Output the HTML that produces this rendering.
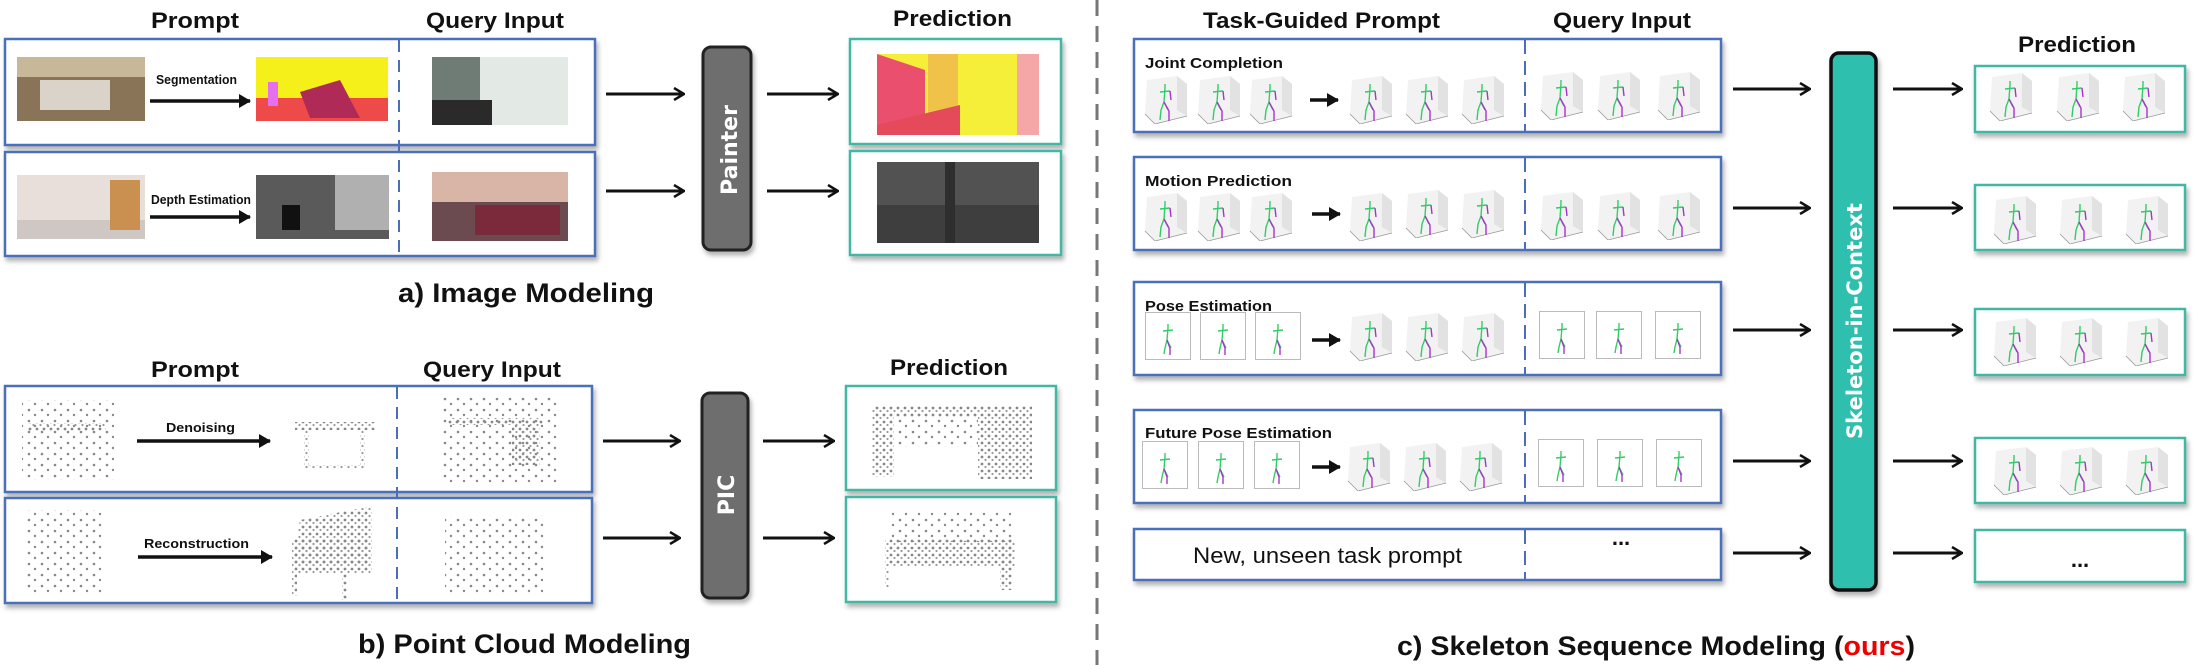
<!DOCTYPE html>
<html><head><meta charset="utf-8"><style>
html,body{margin:0;padding:0;background:#fff}
svg{display:block}
text{font-family:"Liberation Sans Narrow","Liberation Sans",sans-serif;font-weight:bold;fill:#111}
</style></head><body>
<svg width="2196" height="665" viewBox="0 0 2196 665" xmlns="http://www.w3.org/2000/svg">
<defs>
<filter id="sh" x="-5%" y="-5%" width="110%" height="120%"><feDropShadow dx="2" dy="4" stdDeviation="2.5" flood-color="#000" flood-opacity="0.3"/></filter>
<marker id="ah" markerWidth="12" markerHeight="14" refX="11" refY="7" orient="auto" markerUnits="userSpaceOnUse"><path d="M1,1 L11,7 L1,13" fill="none" stroke="#111" stroke-width="2.5"/></marker>
<marker id="fh" markerWidth="12" markerHeight="14" refX="11" refY="7" orient="auto" markerUnits="userSpaceOnUse"><path d="M0,0 L12,7 L0,14 Z" fill="#111"/></marker>
<pattern id="dots" width="7" height="7" patternUnits="userSpaceOnUse"><circle cx="2" cy="2" r="1.4" fill="#888"/><circle cx="5.5" cy="5" r="1.1" fill="#999"/></pattern>
<pattern id="sdots" width="13" height="11" patternUnits="userSpaceOnUse"><circle cx="3" cy="3" r="1.3" fill="#888"/><circle cx="9" cy="8" r="1.2" fill="#888"/></pattern>
<symbol id="sk" viewBox="0 0 46 48" width="46" height="48">
<polygon points="4,4 34,0 44,8 44,40 12,48 2,38" fill="#f2f2f2"/>
<polygon points="34,0 44,8 44,40 34,34" fill="#e2e2e2"/>
<polyline points="2,38 12,48 44,40" fill="none" stroke="#999" stroke-width="0.8"/>
<path d="M22,8 L22,12 M17,16 L27,15 M22,12 L21,26 L18,34 L17,44 M21,26 L25,34" stroke="#3c6" stroke-width="1.4" fill="none"/>
<path d="M21,26 L26,35 L26,45 M27,15 L28,24" stroke="#a3c" stroke-width="1.4" fill="none"/>
</symbol>
<symbol id="fl" viewBox="0 0 46 48" width="46" height="48">
<rect x="0.5" y="0.5" width="45" height="47" fill="#fff" stroke="#bbb"/>
<path d="M23,12 L23,16 M18,19 L28,18 M23,16 L22,28 L20,36 L19,42 M22,28 L26,36" stroke="#3c6" stroke-width="1.4" fill="none"/>
<path d="M22,28 L25,36 L25,43" stroke="#a3c" stroke-width="1.4" fill="none"/>
</symbol>
</defs>

<!-- ===== a) Image Modeling ===== -->
<text x="151" y="28" font-size="22" textLength="88" lengthAdjust="spacingAndGlyphs">Prompt</text>
<text x="426" y="28" font-size="22" textLength="138" lengthAdjust="spacingAndGlyphs">Query Input</text>
<text x="893" y="26" font-size="22" textLength="119" lengthAdjust="spacingAndGlyphs">Prediction</text>
<g filter="url(#sh)">
<rect x="5" y="39" width="590" height="106" fill="#fff" stroke="#4a6fb8" stroke-width="2.5"/>
<rect x="5" y="152" width="590" height="104" fill="#fff" stroke="#4a6fb8" stroke-width="2.5"/>
<rect x="850" y="39" width="211" height="105" fill="#fff" stroke="#3fb8a4" stroke-width="2.5"/>
<rect x="850" y="151" width="211" height="104" fill="#fff" stroke="#3fb8a4" stroke-width="2.5"/>
<rect x="703" y="47" width="48" height="203" rx="8" fill="#6e6e6e" stroke="#222" stroke-width="3"/>
</g>
<line x1="399" y1="40" x2="399" y2="255" stroke="#4a6fb8" stroke-width="2" stroke-dasharray="12,8"/>
<rect x="17" y="57" width="128" height="64" fill="#8a7458"/><rect x="17" y="57" width="128" height="20" fill="#c8b89a"/><rect x="40" y="80" width="70" height="30" fill="#d9d3c9"/>
<text x="156" y="84" font-size="13" textLength="81" lengthAdjust="spacingAndGlyphs">Segmentation</text>
<line x1="150" y1="101" x2="250" y2="101" stroke="#111" stroke-width="3.5" marker-end="url(#fh)"/>
<rect x="256" y="57" width="132" height="64" fill="#f5f01a"/><rect x="256" y="98" width="132" height="23" fill="#ef4a4a"/><polygon points="300,92 340,80 360,118 310,118" fill="#b02a58"/><rect x="268" y="82" width="10" height="24" fill="#e66ff0"/>
<rect x="432" y="57" width="136" height="68" fill="#6f7c76"/><rect x="480" y="57" width="88" height="68" fill="#e3e9e4"/><rect x="432" y="100" width="60" height="25" fill="#2a2a2a"/>
<rect x="17" y="175" width="128" height="64" fill="#e8dfdb"/><rect x="17" y="220" width="128" height="19" fill="#cfc7c4"/><rect x="110" y="180" width="30" height="50" fill="#c9904f"/>
<text x="151" y="204" font-size="13" textLength="100" lengthAdjust="spacingAndGlyphs">Depth Estimation</text>
<line x1="150" y1="217" x2="250" y2="217" stroke="#111" stroke-width="3.5" marker-end="url(#fh)"/>
<rect x="256" y="175" width="133" height="64" fill="#5a5a5a"/><rect x="335" y="175" width="54" height="55" fill="#b0b0b0"/><rect x="282" y="205" width="18" height="25" fill="#111"/>
<rect x="432" y="172" width="136" height="69" fill="#6b4a50"/><rect x="432" y="172" width="136" height="30" fill="#d9b5a8"/><rect x="475" y="205" width="85" height="30" fill="#7a2a3a"/>
<line x1="606" y1="94" x2="684" y2="94" stroke="#111" stroke-width="3" marker-end="url(#ah)"/>
<line x1="606" y1="191" x2="684" y2="191" stroke="#111" stroke-width="3" marker-end="url(#ah)"/>
<line x1="767" y1="94" x2="838" y2="94" stroke="#111" stroke-width="3" marker-end="url(#ah)"/>
<line x1="767" y1="191" x2="838" y2="191" stroke="#111" stroke-width="3" marker-end="url(#ah)"/>
<text transform="translate(737,150) rotate(-90)" font-size="22" text-anchor="middle" style="fill:#fff;font-family:'DejaVu Sans',sans-serif;font-weight:bold">Painter</text>
<rect x="877" y="54" width="162" height="81" fill="#f5ef3a"/><polygon points="877,54 925,70 925,120 877,135" fill="#ea4f6e"/><rect x="928" y="54" width="30" height="81" fill="#f0c24a"/><rect x="1017" y="54" width="22" height="81" fill="#f5a7a7"/><polygon points="877,125 960,105 960,135 877,135" fill="#e44a5a"/>
<rect x="877" y="162" width="162" height="81" fill="#525252"/><rect x="877" y="205" width="162" height="38" fill="#3e3e3e"/><rect x="945" y="162" width="10" height="81" fill="#2e2e2e"/>
<text x="398" y="302" font-size="27" textLength="256" lengthAdjust="spacingAndGlyphs">a) Image Modeling</text>

<!-- ===== b) Point cloud ===== -->
<text x="151" y="377" font-size="22" textLength="88" lengthAdjust="spacingAndGlyphs">Prompt</text>
<text x="423" y="377" font-size="22" textLength="138" lengthAdjust="spacingAndGlyphs">Query Input</text>
<text x="890" y="375" font-size="22" textLength="118" lengthAdjust="spacingAndGlyphs">Prediction</text>
<g filter="url(#sh)">
<rect x="5" y="386" width="587" height="106" fill="#fff" stroke="#4a6fb8" stroke-width="2.5"/>
<rect x="5" y="498" width="587" height="105" fill="#fff" stroke="#4a6fb8" stroke-width="2.5"/>
<rect x="846" y="386" width="210" height="104" fill="#fff" stroke="#3fb8a4" stroke-width="2.5"/>
<rect x="846" y="497" width="210" height="105" fill="#fff" stroke="#3fb8a4" stroke-width="2.5"/>
<rect x="702" y="393" width="46" height="205" rx="8" fill="#6e6e6e" stroke="#222" stroke-width="3"/>
</g>
<line x1="397" y1="387" x2="397" y2="602" stroke="#4a6fb8" stroke-width="2" stroke-dasharray="12,8"/>
<rect x="22" y="400" width="92" height="80" fill="url(#sdots)"/><rect x="28" y="423" width="78" height="8" fill="url(#dots)"/>
<text x="166" y="432" font-size="13" textLength="69" lengthAdjust="spacingAndGlyphs">Denoising</text>
<line x1="137" y1="441" x2="270" y2="441" stroke="#111" stroke-width="3.5" marker-end="url(#fh)"/>
<rect x="295" y="422" width="80" height="8" fill="url(#dots)"/><rect x="304" y="430" width="5" height="40" fill="url(#dots)"/><rect x="360" y="430" width="5" height="40" fill="url(#dots)"/><rect x="304" y="465" width="60" height="4" fill="url(#dots)"/>
<rect x="440" y="395" width="120" height="90" fill="url(#sdots)"/><rect x="448" y="418" width="95" height="7" fill="url(#dots)"/><rect x="512" y="425" width="28" height="40" fill="url(#dots)"/>
<rect x="25" y="510" width="80" height="85" fill="url(#sdots)"/>
<text x="144" y="548" font-size="13" textLength="105" lengthAdjust="spacingAndGlyphs">Reconstruction</text>
<line x1="138" y1="557" x2="272" y2="557" stroke="#111" stroke-width="3.5" marker-end="url(#fh)"/>
<polygon points="300,520 372,506 372,565 292,568" fill="url(#dots)"/><rect x="292" y="538" width="80" height="36" fill="url(#dots)"/><rect x="292" y="574" width="5" height="22" fill="url(#dots)"/><rect x="342" y="574" width="5" height="26" fill="url(#dots)"/>
<rect x="445" y="515" width="100" height="80" fill="url(#sdots)"/>
<line x1="603" y1="441" x2="680" y2="441" stroke="#111" stroke-width="3" marker-end="url(#ah)"/>
<line x1="603" y1="538" x2="680" y2="538" stroke="#111" stroke-width="3" marker-end="url(#ah)"/>
<line x1="763" y1="441" x2="834" y2="441" stroke="#111" stroke-width="3" marker-end="url(#ah)"/>
<line x1="763" y1="538" x2="834" y2="538" stroke="#111" stroke-width="3" marker-end="url(#ah)"/>
<text transform="translate(734,495) rotate(-90)" font-size="22" text-anchor="middle" style="fill:#fff;font-family:'DejaVu Sans',sans-serif;font-weight:bold">PIC</text>
<rect x="872" y="405" width="160" height="12" fill="url(#dots)"/><rect x="872" y="417" width="22" height="60" fill="url(#dots)"/><rect x="978" y="417" width="54" height="62" fill="url(#dots)"/><rect x="894" y="417" width="84" height="30" fill="url(#sdots)"/>
<rect x="890" y="512" width="125" height="30" fill="url(#sdots)"/><rect x="885" y="538" width="130" height="28" fill="url(#dots)"/><rect x="885" y="566" width="4" height="22" fill="url(#dots)"/><rect x="1000" y="540" width="12" height="50" fill="url(#dots)"/>
<text x="358" y="653" font-size="27" textLength="333" lengthAdjust="spacingAndGlyphs">b) Point Cloud Modeling</text>

<line x1="1097" y1="0" x2="1097" y2="665" stroke="#777" stroke-width="3" stroke-dasharray="16,10"/>

<!-- ===== c) ===== -->
<text x="1203" y="28" font-size="22" textLength="237" lengthAdjust="spacingAndGlyphs">Task-Guided Prompt</text>
<text x="1553" y="28" font-size="22" textLength="138" lengthAdjust="spacingAndGlyphs">Query Input</text>
<text x="2018" y="52" font-size="22" textLength="118" lengthAdjust="spacingAndGlyphs">Prediction</text>
<g filter="url(#sh)">
<rect x="1134" y="39" width="587" height="93" fill="#fff" stroke="#4a6fb8" stroke-width="2.5"/>
<rect x="1134" y="157" width="587" height="93" fill="#fff" stroke="#4a6fb8" stroke-width="2.5"/>
<rect x="1134" y="282" width="587" height="93" fill="#fff" stroke="#4a6fb8" stroke-width="2.5"/>
<rect x="1134" y="410" width="587" height="93" fill="#fff" stroke="#4a6fb8" stroke-width="2.5"/>
<rect x="1134" y="529" width="587" height="51" fill="#fff" stroke="#4a6fb8" stroke-width="2.5"/>
<rect x="1975" y="66" width="210" height="66" fill="#fff" stroke="#3fb8a4" stroke-width="2.5"/>
<rect x="1975" y="185" width="210" height="65" fill="#fff" stroke="#3fb8a4" stroke-width="2.5"/>
<rect x="1975" y="309" width="210" height="66" fill="#fff" stroke="#3fb8a4" stroke-width="2.5"/>
<rect x="1975" y="438" width="210" height="65" fill="#fff" stroke="#3fb8a4" stroke-width="2.5"/>
<rect x="1975" y="530" width="210" height="52" fill="#fff" stroke="#3fb8a4" stroke-width="2.5"/>
<rect x="1831" y="53" width="45" height="537" rx="8" fill="#2fbfae" stroke="#111" stroke-width="3.5"/>
</g>
<g stroke="#4a6fb8" stroke-width="2" stroke-dasharray="14,7">
<line x1="1525" y1="40" x2="1525" y2="131"/><line x1="1525" y1="158" x2="1525" y2="249"/><line x1="1525" y1="283" x2="1525" y2="374"/><line x1="1525" y1="411" x2="1525" y2="502"/><line x1="1525" y1="530" x2="1525" y2="579"/>
</g>
<text x="1145" y="68" font-size="15" textLength="138" lengthAdjust="spacingAndGlyphs">Joint Completion</text>
<text x="1145" y="186" font-size="15" textLength="147" lengthAdjust="spacingAndGlyphs">Motion Prediction</text>
<text x="1145" y="311" font-size="15" textLength="127" lengthAdjust="spacingAndGlyphs">Pose Estimation</text>
<text x="1145" y="438" font-size="15" textLength="187" lengthAdjust="spacingAndGlyphs">Future Pose Estimation</text>
<text x="1193" y="563" font-size="22" textLength="269" lengthAdjust="spacingAndGlyphs" style="font-weight:normal">New, unseen task prompt</text>
<text x="1621" y="545" font-size="22" text-anchor="middle">...</text>
<text x="2080" y="567" font-size="22" text-anchor="middle">...</text>
<g>
<use href="#sk" x="1143" y="76"/><use href="#sk" x="1196" y="76"/><use href="#sk" x="1248" y="76"/>
<use href="#sk" x="1348" y="76"/><use href="#sk" x="1404" y="76"/><use href="#sk" x="1460" y="76"/>
<use href="#sk" x="1539" y="72"/><use href="#sk" x="1596" y="72"/><use href="#sk" x="1656" y="72"/>
<use href="#sk" x="1988" y="73"/><use href="#sk" x="2055" y="73"/><use href="#sk" x="2121" y="73"/>

<use href="#sk" x="1143" y="193"/><use href="#sk" x="1196" y="193"/><use href="#sk" x="1248" y="193"/>
<use href="#sk" x="1348" y="193"/><use href="#sk" x="1404" y="190"/><use href="#sk" x="1460" y="190"/>
<use href="#sk" x="1539" y="192"/><use href="#sk" x="1596" y="192"/><use href="#sk" x="1656" y="192"/>
<use href="#sk" x="1992" y="196"/><use href="#sk" x="2058" y="196"/><use href="#sk" x="2124" y="196"/>

<use href="#fl" x="1145" y="312"/><use href="#fl" x="1200" y="312"/><use href="#fl" x="1255" y="312"/>
<use href="#sk" x="1348" y="313"/><use href="#sk" x="1404" y="313"/><use href="#sk" x="1460" y="313"/>
<use href="#fl" x="1539" y="311"/><use href="#fl" x="1596" y="311"/><use href="#fl" x="1655" y="311"/>
<use href="#sk" x="1992" y="318"/><use href="#sk" x="2058" y="318"/><use href="#sk" x="2124" y="318"/>

<use href="#fl" x="1142" y="441"/><use href="#fl" x="1198" y="441"/><use href="#fl" x="1254" y="441"/>
<use href="#sk" x="1346" y="443"/><use href="#sk" x="1402" y="443"/><use href="#sk" x="1458" y="443"/>
<use href="#fl" x="1538" y="439"/><use href="#fl" x="1597" y="439"/><use href="#fl" x="1656" y="439"/>
<use href="#sk" x="1992" y="447"/><use href="#sk" x="2058" y="447"/><use href="#sk" x="2124" y="447"/>
</g>
<g stroke="#111" stroke-width="3.5">
<line x1="1310" y1="100" x2="1338" y2="100" marker-end="url(#fh)"/>
<line x1="1312" y1="214" x2="1340" y2="214" marker-end="url(#fh)"/>
<line x1="1312" y1="340" x2="1340" y2="340" marker-end="url(#fh)"/>
<line x1="1312" y1="467" x2="1340" y2="467" marker-end="url(#fh)"/>
</g>
<g stroke="#111" stroke-width="3">
<line x1="1733" y1="89" x2="1810" y2="89" marker-end="url(#ah)"/>
<line x1="1733" y1="208" x2="1810" y2="208" marker-end="url(#ah)"/>
<line x1="1733" y1="330" x2="1810" y2="330" marker-end="url(#ah)"/>
<line x1="1733" y1="461" x2="1810" y2="461" marker-end="url(#ah)"/>
<line x1="1733" y1="553" x2="1810" y2="553" marker-end="url(#ah)"/>
<line x1="1893" y1="89" x2="1962" y2="89" marker-end="url(#ah)"/>
<line x1="1893" y1="208" x2="1962" y2="208" marker-end="url(#ah)"/>
<line x1="1893" y1="330" x2="1962" y2="330" marker-end="url(#ah)"/>
<line x1="1893" y1="461" x2="1962" y2="461" marker-end="url(#ah)"/>
<line x1="1893" y1="553" x2="1962" y2="553" marker-end="url(#ah)"/>
</g>
<text transform="translate(1862,321) rotate(-90)" font-size="21" text-anchor="middle" style="fill:#fff;font-family:'DejaVu Sans',sans-serif;font-weight:bold">Skeleton-in-Context</text>
<text x="1397" y="655" font-size="27" textLength="518" lengthAdjust="spacingAndGlyphs">c) Skeleton Sequence Modeling (<tspan style="fill:#e00">ours</tspan>)</text>
</svg>
</body></html>
